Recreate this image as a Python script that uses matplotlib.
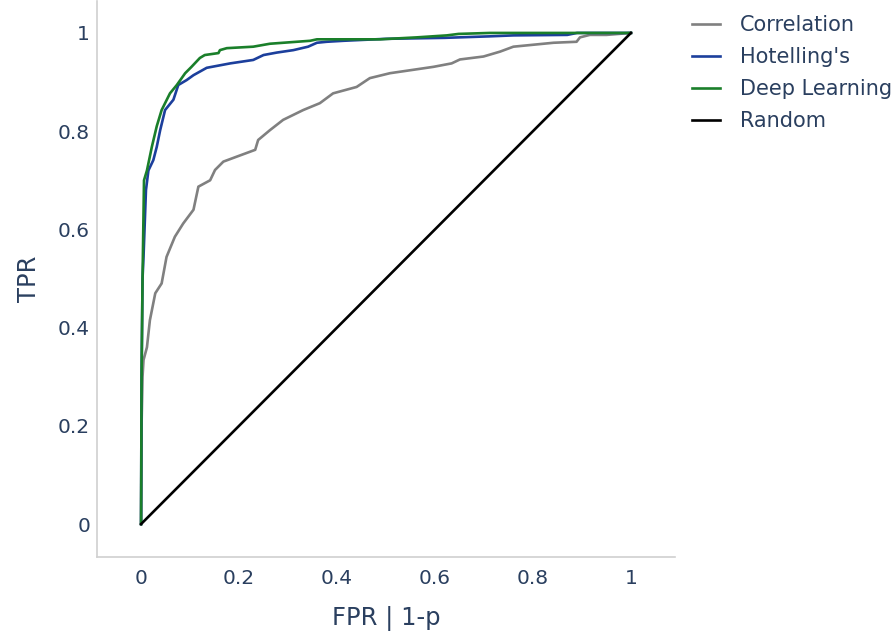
import numpy as np
import matplotlib
matplotlib.use("Agg")
import matplotlib.pyplot as plt

# ROC curves (FPR, TPR)
corr_fpr = [0, 0.001, 0.003, 0.005, 0.012, 0.018, 0.029, 0.042, 0.052, 0.069, 0.086,
            0.107, 0.117, 0.141, 0.151, 0.168, 0.195, 0.233, 0.239, 0.263, 0.29,
            0.331, 0.365, 0.392, 0.44, 0.467, 0.508, 0.556, 0.597, 0.634, 0.651,
            0.699, 0.733, 0.76, 0.842, 0.889, 0.896, 0.916, 0.95, 1.0]
corr_tpr = [0, 0.2, 0.3, 0.334, 0.36, 0.415, 0.47, 0.49, 0.544, 0.585, 0.612,
            0.64, 0.687, 0.70, 0.721, 0.738, 0.748, 0.762, 0.782, 0.802, 0.823,
            0.843, 0.857, 0.877, 0.89, 0.908, 0.918, 0.925, 0.931, 0.938, 0.946,
            0.952, 0.962, 0.972, 0.98, 0.982, 0.991, 0.996, 0.996, 1.0]

hot_fpr = [0, 0.001, 0.003, 0.005, 0.01, 0.015, 0.025, 0.032, 0.039, 0.049, 0.066,
           0.076, 0.093, 0.107, 0.134, 0.182, 0.229, 0.25, 0.277, 0.311, 0.341,
           0.359, 0.379, 0.413, 0.5, 0.62, 0.71, 0.76, 0.87, 0.89, 1.0]
hot_tpr = [0, 0.3, 0.5, 0.544, 0.68, 0.72, 0.741, 0.768, 0.802, 0.843, 0.864,
           0.894, 0.904, 0.914, 0.929, 0.938, 0.945, 0.955, 0.96, 0.965, 0.972,
           0.98, 0.982, 0.984, 0.988, 0.99, 0.993, 0.995, 0.996, 1.0, 1.0]

dl_fpr = [0, 0.001, 0.003, 0.006, 0.012, 0.022, 0.032, 0.042, 0.059, 0.073, 0.09,
          0.103, 0.12, 0.13, 0.158, 0.161, 0.175, 0.229, 0.263, 0.304, 0.345,
          0.359, 0.488, 0.563, 0.624, 0.648, 0.712, 1.0]
dl_tpr = [0, 0.3, 0.5, 0.7, 0.72, 0.768, 0.81, 0.843, 0.877, 0.894, 0.918,
          0.931, 0.949, 0.955, 0.959, 0.965, 0.969, 0.972, 0.978, 0.981, 0.984,
          0.987, 0.987, 0.991, 0.995, 0.998, 1.0, 1.0]

rand_fpr = [0, 1]
rand_tpr = [0, 1]

txt = "#2a3f5f"
plt.rcParams["font.family"] = ["DejaVu Sans"]

fig = plt.figure(figsize=(8.93, 6.32), dpi=100)
ax = fig.add_axes([0.1086, 0.1187, 0.6473, 0.8797])

lw = 1.9
ax.plot(corr_fpr, corr_tpr, color="#808080", lw=lw, label="Correlation")
ax.plot(hot_fpr, hot_tpr, color="#1c3f9c", lw=lw, label="Hotelling's")
ax.plot(dl_fpr, dl_tpr, color="#1a7f2a", lw=lw, label="Deep Learning")
ax.plot(rand_fpr, rand_tpr, color="black", lw=lw, label="Random")

ax.set_xlim(-0.09, 1.09)
ax.set_ylim(-0.067, 1.065)
ticks = [0, 0.2, 0.4, 0.6, 0.8, 1]
labels = ["0", "0.2", "0.4", "0.6", "0.8", "1"]
ax.set_xticks(ticks, labels)
ax.set_yticks(ticks, labels)
ax.tick_params(length=0, labelsize=14.5, colors=txt)
ax.tick_params(axis="x", pad=8.5)
ax.tick_params(axis="y", pad=5)

for s in ["top", "right"]:
    ax.spines[s].set_visible(False)
for s in ["left", "bottom"]:
    ax.spines[s].set_color("#d0d0d0")
    ax.spines[s].set_linewidth(1.2)

ax.set_xlabel("FPR | 1-p", fontsize=17.5, color=txt, labelpad=13)
ax.set_ylabel("TPR", fontsize=17.5, color=txt, labelpad=12)

leg = ax.legend(loc="upper left", bbox_to_anchor=(1.029, 0.975), frameon=False,
                fontsize=15, handlelength=1.35, handletextpad=0.95,
                labelspacing=0.58, borderaxespad=0, borderpad=0)
for t in leg.get_texts():
    t.set_color(txt)

fig.savefig("out.png", dpi=100)
